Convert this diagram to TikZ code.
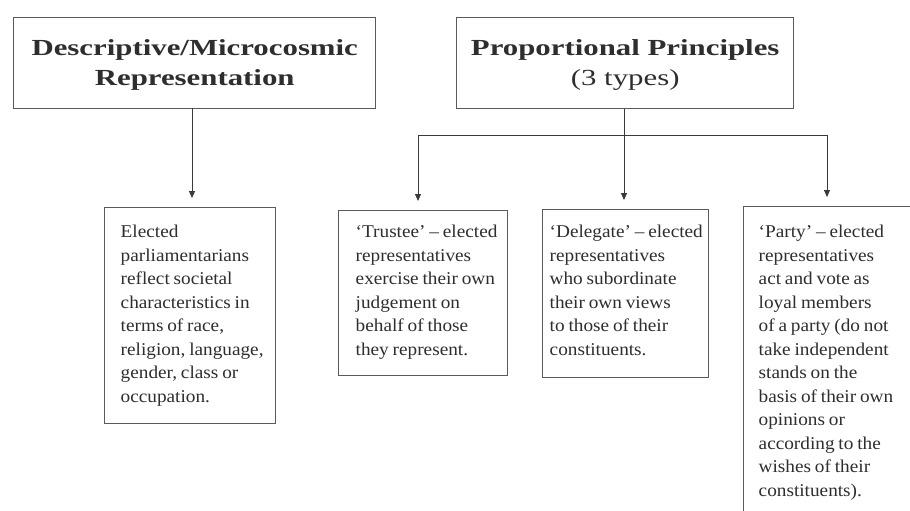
\documentclass[tikz,border=0pt]{standalone}
\usepackage{fontspec}
\setmainfont{Liberation Serif}
\newfontfamily\bodyfont[FakeStretch=1.07,WordSpace=0.8]{Liberation Serif}
\newfontfamily\headfont[FakeStretch=1.34]{Liberation Serif}
\usetikzlibrary{arrows.meta}
\definecolor{ink}{HTML}{2E2E2E}
\definecolor{frame}{HTML}{5A5A5A}
\definecolor{wire}{HTML}{3A3A3A}
% top-aligned block of explicit lines: width, height, lines
\newcommand\linesblock[3]{\begin{minipage}[t][#2][t]{#1}\begin{tabular}[t]{@{}l@{}}#3\end{tabular}\end{minipage}}
\begin{document}
\begin{tikzpicture}[x=1pt,y=-1pt,
  headbox/.style={draw=frame,line width=1.4pt,anchor=north west,inner sep=0pt,
    minimum height=91pt,align=center,text=ink,font=\headfont\fontsize{23}{30}\selectfont},
  textbox/.style={draw=frame,line width=1.4pt,anchor=north west,
    text=ink,font=\bodyfont\fontsize{18}{23.5}\selectfont},
  conn/.style={draw=wire,line width=0.9pt},
  arr/.style={conn,-{Triangle[length=7pt,width=6pt]},shorten >=9pt}]
\clip (0,0) rectangle (910,511);
\fill[white] (0,0) rectangle (910,511);
% headers
\node[headbox,minimum width=362pt] (hd1) at (13,17)
  {\rule{0pt}{20pt}\bfseries Descriptive/Microcosmic\\\bfseries Representation};
\node[headbox,minimum width=337pt] (hd2) at (456,17)
  {\rule{0pt}{20pt}\bfseries Proportional Principles\\(3 types)};
% text boxes
\node[textbox,inner xsep=16pt,inner ysep=13.5pt] (elected) at (104,207)
  {\linesblock{139pt}{189pt}{Elected\\parliamentarians\\reflect societal\\characteristics in\\terms of race,\\religion, language,\\gender, class or\\occupation.}};
\node[textbox,inner xsep=17pt,inner ysep=10.5pt] (trustee) at (338,210)
  {\linesblock{135pt}{144pt}{‘Trustee’ – elected\\representatives\\exercise their own\\judgement on\\behalf of those\\they represent.}};
\node[textbox,inner xsep=7pt,inner ysep=11.5pt] (delegate) at (542,209)
  {\linesblock{152pt}{145pt}{‘Delegate’ – elected\\representatives\\who subordinate\\their own views\\to those of their\\constituents.}};
\node[textbox,inner xsep=15pt,inner ysep=14.5pt] (party) at (743,206)
  {\linesblock{139pt}{295pt}{‘Party’ – elected\\representatives\\act and vote as\\loyal members\\of a party (do not\\take independent\\stands on the\\basis of their own\\opinions or\\according to the\\wishes of their\\constituents).}};
% connectors
\draw[arr] (192,108) -- (192,207);
\coordinate (bl) at (418,135);
\coordinate (bm) at (624,135);
\coordinate (bR) at (827,135);
\draw[conn] (hd2.south -| bm) -- (bm);
\draw[conn] (bl) -- (bR);
\draw[arr] (bl) -- (bl |- trustee.north);
\draw[arr] (bm) -- (bm |- delegate.north);
\draw[arr] (bR) -- (bR |- party.north);
\end{tikzpicture}
\end{document}
